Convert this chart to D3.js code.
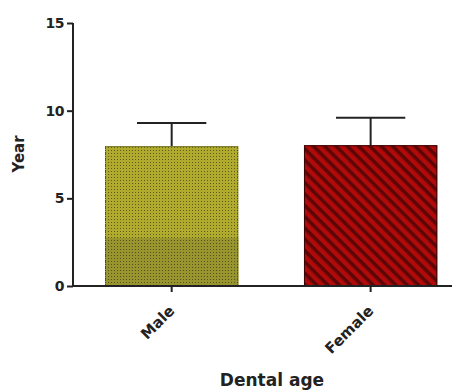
<!DOCTYPE html>
<html><head><meta charset="utf-8">
<script src="https://cdn.jsdelivr.net/npm/d3@7"></script>
<style>body{margin:0;background:#fff}svg{display:block}text{font-family:"DejaVu Sans",Arial,sans-serif}</style>
</head><body>
<svg id="c" width="460" height="390"></svg>
<script>
const categories = ["Male", "Female"];
const means = [7.98, 8.03];
const errors = [1.32, 1.57];
const yTicks = [0, 5, 10, 15];

const svg = d3.select("#c");
const defs = svg.append("defs");
const p1 = defs.append("pattern").attr("id","dots").attr("patternUnits","userSpaceOnUse").attr("width",3).attr("height",3);
p1.append("rect").attr("width",3).attr("height",3).attr("fill","#b0ab2c");
p1.append("rect").attr("x",0).attr("y",0).attr("width",1).attr("height",1).attr("fill","#5e5a1c");
const p1b = defs.append("pattern").attr("id","dots2").attr("patternUnits","userSpaceOnUse").attr("width",3).attr("height",3);
p1b.append("rect").attr("width",3).attr("height",3).attr("fill","#98942e");
p1b.append("rect").attr("x",0).attr("y",0).attr("width",1).attr("height",1).attr("fill","#55521e");
const p2 = defs.append("pattern").attr("id","stripes").attr("patternUnits","userSpaceOnUse").attr("width",8).attr("height",8).attr("patternTransform","rotate(45)");
p2.append("rect").attr("width",8).attr("height",8).attr("fill","#b00a0a");
p2.append("rect").attr("x",0).attr("y",0).attr("width",8).attr("height",3.5).attr("fill","#5c0606");
const fills = ["url(#dots)", "url(#stripes)"];

const y = d3.scaleLinear().domain([0, 15]).range([286, 23]);
const x = d3.scaleBand().domain(categories).range([73, 452]).paddingInner(0.33).paddingOuter(0.1175).align(0.685);

const g = svg.append("g");
categories.forEach((c, i) => {
  const x0 = x(c), bw = x.bandwidth();
  const cx = x0 + bw / 2;
  g.append("line").attr("x1", cx).attr("x2", cx).attr("y1", y(means[i])).attr("y2", y(means[i] + errors[i])).attr("stroke", "#222").attr("stroke-width", 2);
  g.append("line").attr("x1", cx - bw * 0.26).attr("x2", cx + bw * 0.26).attr("y1", y(means[i] + errors[i])).attr("y2", y(means[i] + errors[i])).attr("stroke", "#222").attr("stroke-width", 2);
  g.append("rect").attr("x", x0).attr("y", y(means[i])).attr("width", bw).attr("height", y(0) - y(means[i])).attr("fill", fills[i]);
  if (i === 0) {
    g.append("rect").attr("x", x0).attr("y", y(2.75)).attr("width", bw).attr("height", y(0) - y(2.75)).attr("fill", "url(#dots2)");
  }
  g.append("rect").attr("x", x0 + 0.5).attr("y", y(means[i]) + 0.5).attr("width", bw - 1).attr("height", y(0) - y(means[i]) - 1).attr("fill", "none").attr("stroke", i === 0 ? "#4a4a1a" : "#3a0505").attr("stroke-width", 1).attr("stroke-dasharray", i === 0 ? "1,1" : null);
});

const ya = svg.append("g").attr("transform", "translate(73,0)")
  .call(d3.axisLeft(y).tickValues(yTicks).tickSize(6).tickPadding(3).tickFormat(d3.format("d")));
ya.select(".domain").attr("stroke", "#222").attr("stroke-width", 2).attr("d", `M0,${y(15)}V${y(0)}`);
ya.selectAll(".tick line").attr("stroke", "#222").attr("stroke-width", 2);
ya.selectAll(".tick text").attr("font-size", 14).attr("font-weight", "bold").attr("fill", "#222").attr("letter-spacing", -0.5);

const xa = svg.append("g").attr("transform", `translate(0,${y(0)})`)
  .call(d3.axisBottom(x).tickSize(6).tickPadding(4));
xa.select(".domain").attr("stroke", "#222").attr("stroke-width", 2).attr("d", `M73,0H452`);
xa.selectAll(".tick line").attr("stroke", "#222").attr("stroke-width", 2);
xa.selectAll(".tick text").attr("font-size", 15).attr("font-weight", "bold").attr("fill", "#222")
  .attr("text-anchor", "end").attr("dy", "0.35em").attr("transform", "translate(-7,15) rotate(-45)");

svg.append("text").attr("transform", "translate(24,154) rotate(-90)").attr("text-anchor", "middle")
  .attr("font-size", 15).attr("font-weight", "bold").attr("fill", "#222").text("Year");
svg.append("text").attr("x", 272).attr("y", 386).attr("text-anchor", "middle")
  .attr("font-size", 17).attr("font-weight", "bold").attr("fill", "#222").text("Dental age");
</script>
</body></html>
